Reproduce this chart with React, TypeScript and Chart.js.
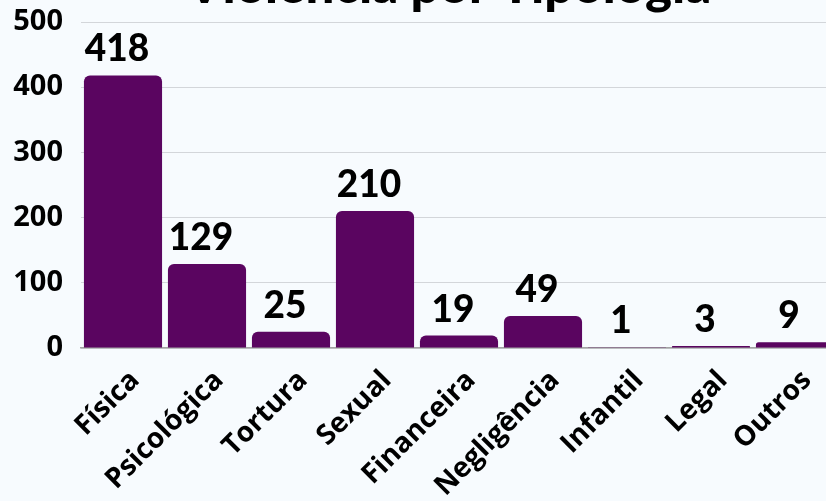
import React, { useEffect, useRef } from "react";
import { Chart, registerables } from "chart.js";

Chart.register(...registerables);

const TITLE = "Violência por Tipologia";
const categories = ["Física", "Psicológica", "Tortura", "Sexual", "Financeira", "Negligência", "Infantil", "Legal", "Outros"];
const values = [418, 129, 25, 210, 19, 49, 1, 3, 9];
const yMax = 500;
const yStep = 100;

const BG = "#f7fbfe";
const BAR = "#5a0560";
const SANS = '"Open Sans", sans-serif';

const bgPlugin = {
  id: "bg",
  beforeDraw(chart: any) {
    const { ctx, width, height } = chart;
    ctx.save();
    ctx.fillStyle = BG;
    ctx.fillRect(0, 0, width, height);
    ctx.restore();
  },
};

const titlePlugin = {
  id: "titleTop",
  afterDraw(chart: any) {
    const { ctx } = chart;
    ctx.save();
    ctx.font = "900 51px Lato";
    ctx.fillStyle = "#000";
    ctx.textAlign = "center";
    ctx.textBaseline = "alphabetic";
    ctx.fillText(TITLE, 449, 3);
    ctx.restore();
  },
};

const valueLabelPlugin = {
  id: "valueLabels",
  afterDatasetsDraw(chart: any) {
    const { ctx } = chart;
    const meta = chart.getDatasetMeta(0);
    ctx.save();
    ctx.font = "900 37px Lato";
    ctx.fillStyle = "#000";
    ctx.textAlign = "center";
    ctx.textBaseline = "alphabetic";
    meta.data.forEach((bar: any, i: number) => {
      ctx.fillText(String(values[i]), bar.x - 6, bar.y - 14);
    });
    ctx.restore();
  },
};

export default function App() {
  const ref = useRef<HTMLCanvasElement>(null);
  useEffect(() => {
    const canvas = ref.current!;
    const chart = new Chart(canvas, {
      type: "bar",
      data: {
        labels: categories,
        datasets: [
          {
            data: values,
            backgroundColor: BAR,
            borderRadius: { topLeft: 6, topRight: 6, bottomLeft: 0, bottomRight: 0 },
            borderSkipped: "bottom",
            barPercentage: 0.93,
            categoryPercentage: 1,
          },
        ],
      },
      options: {
        animation: false,
        responsive: false,
        devicePixelRatio: 1,
        layout: { padding: { top: 22, left: 0, right: 13, bottom: 0 } },
        plugins: { legend: { display: false }, tooltip: { enabled: false }, title: { display: false } },
        scales: {
          x: {
            grid: { display: false },
            border: { display: true, color: "#a3a3a3", width: 1.5 },
            ticks: {
              color: "#000",
              font: { family: SANS, weight: "bold", size: 28 },
              minRotation: 45,
              maxRotation: 45,
              padding: 8,
              labelOffset: 12,
            },
            afterFit(scale: any) {
              scale.height = 153;
            },
          },
          y: {
            min: 0,
            max: yMax,
            ticks: {
              stepSize: yStep,
              color: "#000",
              font: { family: SANS, weight: "bold", size: 29 },
              padding: 18,
            },
            grid: { color: "#d3d6da", lineWidth: 1, drawTicks: false },
            border: { display: false },
            afterFit(scale: any) {
              scale.width = 81;
              scale.paddingTop = 0;
              scale.paddingBottom = 0;
            },
          },
        },
      },
      plugins: [bgPlugin, titlePlugin, valueLabelPlugin],
    });
    return () => chart.destroy();
  }, []);
  return (
    <div style={{ position: "fixed", left: 0, top: 0, width: 826, height: 501, overflow: "hidden", background: BG }}>
      <canvas ref={ref} width={850} height={501} style={{ width: 850, height: 501, display: "block" }} />
    </div>
  );
}
